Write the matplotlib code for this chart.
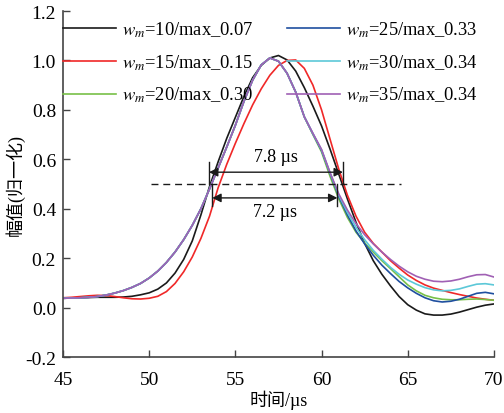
import numpy as np
import matplotlib
matplotlib.use('Agg')
import matplotlib.pyplot as plt

plt.rcParams['font.family'] = ['Liberation Serif', 'Noto Sans CJK SC']
plt.rcParams['mathtext.fontset'] = 'stix'

# time axis (us)
t = np.arange(45.0, 70.01, 0.5)

# normalised amplitudes, one value per 0.5 us
w10 = [0.038, 0.039, 0.040, 0.041, 0.042, 0.042, 0.042, 0.043, 0.046, 0.052,
       0.060, 0.075, 0.100, 0.140, 0.195, 0.270, 0.375, 0.490, 0.590, 0.685,
       0.770, 0.855, 0.930, 0.980, 1.010, 1.020, 1.002, 0.957, 0.890, 0.815,
       0.735, 0.640, 0.540, 0.440, 0.345, 0.260, 0.190, 0.135, 0.088, 0.045,
       0.012, -0.010, -0.025, -0.030, -0.030, -0.026, -0.018, -0.008, 0.002, 0.010,
       0.015]
w15 = [0.040, 0.042, 0.045, 0.048, 0.050, 0.049, 0.045, 0.040, 0.036, 0.035,
       0.038, 0.046, 0.065, 0.098, 0.145, 0.205, 0.280, 0.370, 0.485, 0.580,
       0.665, 0.745, 0.820, 0.885, 0.940, 0.980, 1.000, 1.002, 0.968, 0.900,
       0.800, 0.680, 0.560, 0.455, 0.370, 0.305, 0.260, 0.225, 0.190, 0.160,
       0.132, 0.110, 0.092, 0.079, 0.070, 0.061, 0.053, 0.046, 0.039, 0.034,
       0.030]
w20 = [0.038, 0.039, 0.040, 0.042, 0.045, 0.051, 0.059, 0.069, 0.082, 0.098,
       0.120, 0.148, 0.183, 0.225, 0.275, 0.333, 0.400, 0.480, 0.565, 0.650,
       0.738, 0.835, 0.920, 0.982, 1.010, 0.997, 0.948, 0.872, 0.772, 0.700,
       0.630, 0.530, 0.440, 0.365, 0.305, 0.262, 0.225, 0.190, 0.158, 0.125,
       0.092, 0.068, 0.050, 0.040, 0.034, 0.032, 0.032, 0.034, 0.035, 0.033,
       0.030]
w25 = [0.038, 0.039, 0.040, 0.042, 0.045, 0.051, 0.059, 0.069, 0.082, 0.098,
       0.120, 0.148, 0.183, 0.225, 0.275, 0.333, 0.400, 0.480, 0.565, 0.650,
       0.738, 0.835, 0.920, 0.982, 1.010, 0.997, 0.948, 0.872, 0.772, 0.703,
       0.636, 0.542, 0.450, 0.375, 0.310, 0.258, 0.212, 0.172, 0.138, 0.106,
       0.080, 0.058, 0.040, 0.028, 0.023, 0.026, 0.034, 0.046, 0.058, 0.062,
       0.056]
w30 = [0.038, 0.039, 0.040, 0.042, 0.045, 0.051, 0.059, 0.069, 0.082, 0.098,
       0.120, 0.148, 0.183, 0.225, 0.275, 0.333, 0.400, 0.480, 0.565, 0.650,
       0.738, 0.835, 0.920, 0.982, 1.010, 0.997, 0.948, 0.872, 0.772, 0.704,
       0.638, 0.544, 0.455, 0.385, 0.325, 0.275, 0.232, 0.196, 0.163, 0.135,
       0.112, 0.095, 0.081, 0.072, 0.068, 0.070, 0.076, 0.086, 0.095, 0.097,
       0.092]
w35 = [0.038, 0.039, 0.040, 0.042, 0.045, 0.051, 0.059, 0.069, 0.082, 0.098,
       0.120, 0.148, 0.183, 0.225, 0.275, 0.333, 0.400, 0.480, 0.565, 0.650,
       0.738, 0.835, 0.920, 0.982, 1.010, 0.997, 0.948, 0.872, 0.772, 0.705,
       0.640, 0.545, 0.460, 0.395, 0.340, 0.295, 0.258, 0.225, 0.195, 0.168,
       0.145, 0.127, 0.115, 0.107, 0.105, 0.108, 0.115, 0.125, 0.133, 0.134,
       0.124]

series = [w10, w15, w20, w25, w30, w35]
labels = [r'$w_m$=10/max_0.07', r'$w_m$=15/max_0.15', r'$w_m$=20/max_0.30',
          r'$w_m$=25/max_0.33', r'$w_m$=30/max_0.34', r'$w_m$=35/max_0.34']
colors = ['#1a1a1a', '#f02828', '#78c048', '#1f4f9f', '#5cc8d8', '#a060b4']

fig = plt.figure(figsize=(5.04, 4.14), dpi=100)
ax = fig.add_axes([0.125, 0.135, 0.855, 0.836])

for y, lab, c in zip(series, labels, colors):
    ax.plot(t, y, color=c, lw=1.2, label=lab)

# half-maximum level
ax.plot([50.1, 64.6], [0.5, 0.5], color='#1a1a1a', lw=1.0, ls=(0, (5, 3.5)))

# FWHM markers
for x0, x1, y0, y1, ya, txt, yt in [(53.47, 61.24, 0.50, 0.59, 0.548, '7.8 µs', 0.61),
                                    (53.66, 60.92, 0.41, 0.50, 0.444, '7.2 µs', 0.39)]:
    ax.plot([x0, x0], [y0, y1], color='#1a1a1a', lw=1.0)
    ax.plot([x1, x1], [y0, y1], color='#1a1a1a', lw=1.0)
    ax.annotate('', xy=(x0, ya), xytext=(x1, ya),
                arrowprops=dict(arrowstyle='<|-|>', color='#1a1a1a', lw=1.0,
                                mutation_scale=13, shrinkA=0, shrinkB=0))
    ax.text((x0 + x1) / 2, yt, txt, ha='center', va='center', fontsize=13)

ax.set_xlim(45, 70)
ax.set_ylim(-0.2, 1.2)
ax.set_xticks(np.arange(45, 71, 5))
ax.set_yticks(np.arange(-0.2, 1.21, 0.2))
ax.yaxis.set_major_formatter(matplotlib.ticker.FormatStrFormatter('%.1f'))
ax.spines['top'].set_visible(False)
ax.spines['right'].set_visible(False)
for s in ('left', 'bottom'):
    ax.spines[s].set_color('#444444')
    ax.spines[s].set_linewidth(1.2)
ax.tick_params(direction='in', length=5, width=1.0, color='#444444',
               labelsize=14, pad=5)
ax.tick_params(axis='x', pad=10)

ax.set_xlabel('时间/µs', fontsize=13, labelpad=1)
ax.set_ylabel('幅值(归一化)', fontsize=13, labelpad=0)

ax.legend(loc='upper left', bbox_to_anchor=(0.0, 0.975), ncol=2, frameon=False,
          fontsize=13.3, handlelength=2.87, handletextpad=0.32,
          labelspacing=0.72, columnspacing=1.8, borderpad=0, borderaxespad=0)

fig.savefig('out.png', dpi=100)
